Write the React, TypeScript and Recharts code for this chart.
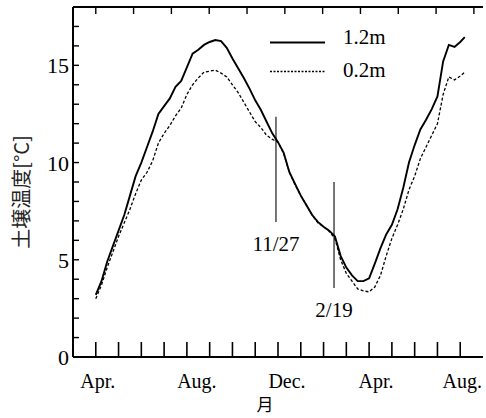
import React from 'react';
import {
  LineChart,
  Line,
  XAxis,
  YAxis,
  ReferenceLine,
  Legend,
  Label,
} from 'recharts';

// months counted from the first of April (0 = Apr. 1)
const MONTHS = [
  0, 0.25, 0.5, 0.75, 1, 1.25, 1.5, 1.75, 2, 2.25, 2.5, 2.75, 3, 3.25, 3.5, 3.75,
  4, 4.25, 4.5, 4.75, 5, 5.25, 5.5, 5.75, 6, 6.25, 6.5, 6.75, 7, 7.25, 7.5, 7.75,
  8, 8.25, 8.5, 8.75, 9, 9.25, 9.5, 9.75, 10, 10.25, 10.5, 10.75, 11, 11.25, 11.5, 11.75,
  12, 12.25, 12.5, 12.75, 13, 13.25, 13.5, 13.75, 14, 14.25, 14.5, 14.75, 15, 15.25, 15.5, 15.75,
  16, 16.2,
];

// soil temperature at 1.2 m depth
const DEPTH_1_2M = [
  3.2, 3.9, 4.9, 5.7, 6.5, 7.3, 8.3, 9.3, 10.0, 10.8, 11.6, 12.5, 12.9, 13.3, 13.9, 14.2,
  14.9, 15.6, 15.8, 16.05, 16.2, 16.3, 16.25, 15.9, 15.35, 14.85, 14.35, 13.8, 13.2, 12.7, 12.1, 11.5,
  11.05, 10.5, 9.5, 8.9, 8.3, 7.8, 7.3, 6.95, 6.7, 6.5, 6.2, 5.2, 4.6, 4.2, 3.9, 3.9,
  4.05, 4.8, 5.6, 6.3, 6.8, 7.6, 8.7, 10.0, 10.9, 11.7, 12.2, 12.75, 13.4, 15.2, 16.05, 15.95,
  16.2, 16.45,
];

// soil temperature at 0.2 m depth
const DEPTH_0_2M = [
  3.0, 3.7, 4.6, 5.4, 6.2, 6.9, 7.6, 8.4, 9.1, 9.5, 10.1, 11.0, 11.5, 11.9, 12.4, 12.8,
  13.5, 14.0, 14.35, 14.65, 14.7, 14.75, 14.6, 14.4, 14.0, 13.6, 13.1, 12.6, 12.1, 11.8, 11.4, 11.2,
  11.05, 10.45, 9.5, 8.85, 8.3, 7.8, 7.3, 6.9, 6.7, 6.45, 6.1, 5.0, 4.3, 3.9, 3.5, 3.4,
  3.35, 3.6, 4.2, 5.2, 6.1, 6.8, 7.6, 8.6, 9.3, 10.2, 10.8, 11.4, 12.0, 13.5, 14.4, 14.25,
  14.45, 14.65,
];

const MONTH_TICKS = [0, 1, 2, 3, 4, 5, 6, 7, 8, 9, 10, 11, 12, 13, 14, 15, 16];
const MONTH_LABELS: Record<number, string> = { 0: 'Apr.', 4: 'Aug.', 8: 'Dec.', 12: 'Apr.', 16: 'Aug.' };
const TOP_TICKS = [0, 1.66, 3.32, 4.98, 6.64, 8.3, 9.96, 11.62, 13.28, 14.94, 16.6];
const TEMP_TICKS = [0, 1, 2, 3, 4, 5, 6, 7, 8, 9, 10, 11, 12, 13, 14, 15, 16, 17];

// marker lines: [month, top temp, bottom temp, label]
const MARKERS: [number, number, number, string][] = [
  [7.91, 12.35, 6.94, '11/27'],
  [10.46, 9.0, 3.55, '2/19'],
];

const data = MONTHS.map((m, i) => ({ m, deep: DEPTH_1_2M[i], shallow: DEPTH_0_2M[i] }));

const SERIF = "'Liberation Serif', 'Times New Roman', serif";
const CJK = "'Noto Sans CJK JP', 'Noto Sans CJK SC', sans-serif";

// small horizontal shifts of the month names, as printed
const LABEL_NUDGE: Record<number, number> = { 0: 2, 4: 10, 8: 9, 12: 7, 16: 2 };

const BottomTick = ({ x, y, payload }: any) => {
  const v = payload.value;
  const name = MONTH_LABELS[v];
  return (
    <g>
      <line x1={x} x2={x} y1={y} y2={y - 15} stroke="#000" strokeWidth={1.6} />
      {name && (
        <text x={x + (LABEL_NUDGE[v] || 0)} y={y + 31} textAnchor="middle" style={{ fontSize: 20, fontFamily: SERIF }} fill="#000">
          {name}
        </text>
      )}
    </g>
  );
};

const TopTick = ({ x, y }: any) => (
  <line x1={x} x2={x} y1={y} y2={y + 7} stroke="#000" strokeWidth={1.4} />
);

const LeftTick = ({ x, y, payload }: any) => {
  const v = payload.value;
  return (
    <g>
      {v !== 0 && <line x1={x} x2={x + 6} y1={y} y2={y} stroke="#000" strokeWidth={1.4} />}
      {v % 5 === 0 && (
        <text x={x - 4} y={y + 8} textAnchor="end" style={{ fontSize: 22, fontFamily: SERIF }} fill="#000">
          {String(v)}
        </text>
      )}
    </g>
  );
};

const RightTick = ({ x, y, payload }: any) => {
  if (payload.value === 0) return <g />;
  const len = payload.value === 10 ? 5 : 3;
  return <line x1={x - len} x2={x} y1={y} y2={y} stroke="#000" strokeWidth={1.4} />;
};

const LegendBox = () => (
  <svg width={140} height={60}>
    <line x1={5} x2={60} y1={17.5} y2={17.5} stroke="#000" strokeWidth={1.8} />
    <text x={78} y={19} style={{ fontSize: 21, fontFamily: SERIF }} fill="#000">1.2m</text>
    <line x1={5} x2={60} y1={46.5} y2={46.5} stroke="#000" strokeWidth={1.3} strokeDasharray="2 1.5" />
    <text x={78} y={52} style={{ fontSize: 21, fontFamily: SERIF }} fill="#000">0.2m</text>
  </svg>
);

export default function App() {
  return (
    <div style={{ position: 'absolute', left: 0, top: 0, width: 486, height: 418, background: '#fff' }}>
      <LineChart width={486} height={418} data={data} margin={{ top: 0, right: 0, bottom: 0, left: 0 }}>
        <XAxis
          xAxisId="b"
          dataKey="m"
          type="number"
          domain={[-1, 17]}
          ticks={MONTH_TICKS}
          interval={0}
          height={61}
          tickSize={0}
          tickMargin={0}
          tickLine={false}
          tick={<BottomTick />}
          axisLine={{ stroke: '#000', strokeWidth: 2 }}
        >
          <Label
            content={({ viewBox }: any) => (
              <text x={viewBox.x + 192} y={viewBox.y + 54} textAnchor="middle" style={{ fontSize: 17, fontFamily: CJK }} fill="#000">
                月
              </text>
            )}
          />
        </XAxis>
        <XAxis
          xAxisId="t"
          orientation="top"
          type="number"
          dataKey="m"
          domain={[-1, 17]}
          ticks={TOP_TICKS}
          interval={0}
          height={7}
          tickSize={0}
          tickMargin={0}
          tickLine={false}
          tick={<TopTick />}
          axisLine={{ stroke: '#000', strokeWidth: 2 }}
        />
        <YAxis
          yAxisId="l"
          type="number"
          domain={[0, 18]}
          ticks={TEMP_TICKS}
          interval={0}
          width={73}
          tickSize={0}
          tickMargin={0}
          tickLine={false}
          tick={<LeftTick />}
          axisLine={{ stroke: '#000', strokeWidth: 2 }}
        >
          <Label
            content={() => (
              <text
                transform="translate(20,192) rotate(-90)"
                textAnchor="middle"
                dominantBaseline="central"
                style={{ fontSize: 20, fontFamily: CJK }}
                fill="#222"
              >
                土壌温度[°C]
              </text>
            )}
          />
        </YAxis>
        <YAxis
          yAxisId="r"
          orientation="right"
          type="number"
          domain={[0, 18]}
          ticks={TEMP_TICKS}
          interval={0}
          width={3}
          tickSize={0}
          tickMargin={0}
          tickLine={false}
          tick={<RightTick />}
          axisLine={false}
        />
        <Legend
          layout="vertical"
          align="center"
          verticalAlign="middle"
          content={<LegendBox />}
          wrapperStyle={{ position: 'absolute', left: 265, top: 25, width: 140, height: 60 }}
        />
        {MARKERS.map(([mx, y1, y2, label]) => (
          <ReferenceLine
            key={label}
            xAxisId="b"
            yAxisId="l"
            segment={[{ x: mx, y: y1 }, { x: mx, y: y2 }]}
            stroke="#555"
            strokeWidth={1.6}
            label={{ value: label, position: 'bottom', offset: 14, fontSize: 21, fontFamily: SERIF, fill: '#000' }}
          />
        ))}
        <Line
          xAxisId="b"
          yAxisId="l"
          type="linear"
          dataKey="shallow"
          stroke="#000"
          strokeWidth={1.3}
          strokeDasharray="3 2"
          dot={false}
          isAnimationActive={false}
        />
        <Line
          xAxisId="b"
          yAxisId="l"
          type="linear"
          dataKey="deep"
          stroke="#000"
          strokeWidth={1.9}
          dot={false}
          isAnimationActive={false}
        />
      </LineChart>
    </div>
  );
}
